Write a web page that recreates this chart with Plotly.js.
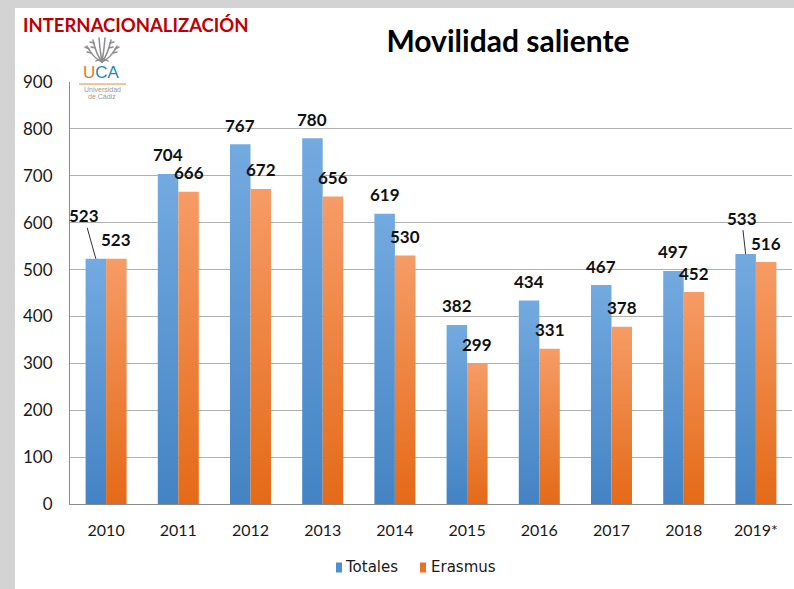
<!DOCTYPE html>
<html>
<head>
<meta charset="utf-8">
<script src="https://cdn.plot.ly/plotly-3.0.1.min.js"></script>
<style>
  html, body { margin: 0; padding: 0; background: #d3d3d3; width: 794px; height: 589px; overflow: hidden; }
  #chart { position: absolute; left: 15px; top: 8px; width: 779px; height: 581px; background: #fff; }
</style>
</head>
<body>
<div id="chart"></div>
<script>
// ---- data ----
const categories = ['2010', '2011', '2012', '2013', '2014', '2015', '2016', '2017', '2018', '2019*'];
const totales = [523, 704, 767, 780, 619, 382, 434, 467, 497, 533];
const erasmus = [523, 666, 672, 656, 530, 299, 331, 378, 452, 516];
const seriesNames = ['Totales', 'Erasmus'];
const seriesColors = ['#4f8fd0', '#ea7425'];
const yTicks = [0, 100, 200, 300, 400, 500, 600, 700, 800, 900];

// ---- geometry helpers (page px -> paper fraction) ----
const PL = 70, PR = 792, PT = 82, PB = 504;
const px = x => (x - PL) / (PR - PL);
const py = y => (PB - y) / (PB - PT);

const labelFont = { family: 'Lato, "Open Sans", sans-serif', size: 17, color: '#111', weight: 'bold' };
const axisFont = 'Lato, "Open Sans", sans-serif';

const traces = [
  { type: 'bar', name: seriesNames[0], x: categories, y: totales, marker: { color: seriesColors[0] } },
  { type: 'bar', name: seriesNames[1], x: categories, y: erasmus, marker: { color: seriesColors[1] } }
];

const half = 10.25;
const annotations = [];
categories.forEach((c, i) => {
  // Totales (x given as category index)
  if (i === 0) {
    annotations.push({ x: i, y: totales[i], xref: 'x', yref: 'y', text: String(totales[i]), xshift: -half,
      showarrow: true, arrowhead: 0, arrowwidth: 1, arrowcolor: '#333', ax: -12, ay: -43, font: labelFont });
  } else if (i === categories.length - 1) {
    annotations.push({ x: i, y: totales[i], xref: 'x', yref: 'y', text: String(totales[i]), xshift: -half,
      showarrow: true, arrowhead: 0, arrowwidth: 1, arrowcolor: '#333', ax: -4, ay: -36, font: labelFont });
  } else {
    annotations.push({ x: i, y: totales[i], xref: 'x', yref: 'y', text: String(totales[i]), xshift: -half,
      yshift: 19, showarrow: false, yanchor: 'middle', font: labelFont });
  }
  // Erasmus
  annotations.push({ x: i, y: erasmus[i], xref: 'x', yref: 'y', text: String(erasmus[i]), xshift: half,
    yshift: 19, showarrow: false, yanchor: 'middle', font: labelFont });
});

// header text and logo text
annotations.push({ xref: 'paper', yref: 'paper', x: px(21), y: py(25), xanchor: 'left', yanchor: 'middle',
  text: 'INTERNACIONALIZACIÓN', showarrow: false,
  font: { family: 'Lato, "Open Sans", sans-serif', size: 18.5, color: '#c00000', weight: 'bold' } });
annotations.push({ xref: 'paper', yref: 'paper', x: px(101), y: py(73), xanchor: 'center', yanchor: 'middle',
  text: '<span style="color:#e07b20">U</span><span style="color:#2d86ad">CA</span>', showarrow: false,
  font: { family: '"Liberation Sans", sans-serif', size: 17, color: '#2d86ad' } });
annotations.push({ xref: 'paper', yref: 'paper', x: px(102), y: py(89), xanchor: 'center', yanchor: 'middle',
  text: 'Universidad', showarrow: false, font: { family: '"Liberation Sans", sans-serif', size: 7, color: '#999' } });
annotations.push({ xref: 'paper', yref: 'paper', x: px(102), y: py(96), xanchor: 'center', yanchor: 'middle',
  text: 'de Cádiz', showarrow: false, font: { family: '"Liberation Sans", sans-serif', size: 7, color: '#999' } });

// legend (manual, to match compact Excel-style legend)
const legendItems = [
  { name: seriesNames[0], color: seriesColors[0], sq: 336, tx: 343 },
  { name: seriesNames[1], color: seriesColors[1], sq: 420, tx: 429 }
];
const legendShapes = [];
legendItems.forEach(it => {
  legendShapes.push({ type: 'rect', xref: 'paper', yref: 'paper', x0: px(it.sq), x1: px(it.sq + 6),
    y0: py(572.5), y1: py(562.5), fillcolor: it.color, line: { width: 0 } });
  annotations.push({ xref: 'paper', yref: 'paper', x: px(it.tx), y: py(567), xanchor: 'left', yanchor: 'middle',
    text: it.name, showarrow: false, font: { family: '"DejaVu Sans", sans-serif', size: 15, color: '#1a1a1a' } });
});

const wheat = "<svg xmlns='http://www.w3.org/2000/svg' width='40' height='26' viewBox='0 0 40 26'>" +
  "<g fill='none' stroke='#8d8d8d' stroke-width='1.5' stroke-linecap='round'>" +
  "<path d='M20 25 Q11 21 5 9'/><path d='M20 25 Q14 17 11 3'/><path d='M20 25 Q18 14 17 1'/>" +
  "<path d='M20 25 Q29 21 35 9'/><path d='M20 25 Q26 17 29 3'/><path d='M20 25 Q22 14 23 1'/>" +
  "<path d='M7 12 L3 10'/><path d='M9 16 L5 15'/><path d='M12 6 L8 5'/><path d='M13 11 L9 10'/>" +
  "<path d='M33 12 L37 10'/><path d='M31 16 L35 15'/><path d='M28 6 L32 5'/><path d='M27 11 L31 10'/>" +
  "<path d='M14 24 Q20 20 26 24'/></g></svg>";

const layout = {
  width: 779, height: 581,
  margin: { l: 55, r: 2, t: 74, b: 85 },
  paper_bgcolor: '#ffffff', plot_bgcolor: '#ffffff',
  barmode: 'group', bargap: 0.432, bargroupgap: 0,
  title: { text: '<b>Movilidad saliente</b>', xref: 'container', yref: 'container',
    x: 493 / 779, y: 1 - 33 / 581, xanchor: 'center', yanchor: 'middle',
    font: { family: 'Lato, "Open Sans", sans-serif', size: 30, color: '#000' } },
  xaxis: { type: 'category', range: [-0.5, categories.length - 0.5], autorange: false,
    showline: true, linecolor: '#8c8c8c', linewidth: 1, ticks: '',
    showgrid: false, ticklabelstandoff: 12, tickfont: { family: axisFont, size: 16, color: '#1a1a1a' } },
  yaxis: { range: [0, 900], autorange: false, tickvals: yTicks, ticktext: yTicks.map(String), showline: true,
    linecolor: '#8c8c8c', linewidth: 1, ticks: '', gridcolor: '#b0b0b0', gridwidth: 1, zeroline: false,
    ticklabelstandoff: 13, tickfont: { family: axisFont, size: 17, color: '#1a1a1a' } },
  showlegend: false,
  annotations: annotations,
  shapes: [
    { type: 'rect', xref: 'paper', yref: 'paper', x0: px(78), x1: px(127), y0: py(64), y1: py(100),
      fillcolor: '#ffffff', line: { width: 0 }, layer: 'above' },
    { type: 'line', xref: 'paper', yref: 'paper', x0: px(79), x1: px(126), y0: py(84), y1: py(84),
      line: { color: '#efb27a', width: 1.5 }, layer: 'above' }
  ].concat(legendShapes),
  images: [
    { source: 'data:image/svg+xml;utf8,' + encodeURIComponent(wheat), xref: 'paper', yref: 'paper',
      x: px(82), y: py(37), sizex: 40 / (PR - PL), sizey: 26 / (PB - PT), sizing: 'stretch',
      xanchor: 'left', yanchor: 'top', layer: 'above' }
  ]
};

Plotly.newPlot('chart', traces, layout, { staticPlot: true, displayModeBar: false }).then(gd => {
  const ns = 'http://www.w3.org/2000/svg';
  const defs = gd.querySelector('.main-svg defs');
  const grads = [['#73aae0', '#4483c4'], ['#f69c66', '#e46a17']];
  grads.forEach((g, i) => {
    const lg = document.createElementNS(ns, 'linearGradient');
    lg.setAttribute('id', 'bargrad' + i);
    lg.setAttribute('x1', '0'); lg.setAttribute('y1', '0'); lg.setAttribute('x2', '0'); lg.setAttribute('y2', '1');
    [[0, g[0]], [1, g[1]]].forEach(([o, c]) => {
      const st = document.createElementNS(ns, 'stop');
      st.setAttribute('offset', String(o)); st.setAttribute('stop-color', c);
      lg.appendChild(st);
    });
    defs.appendChild(lg);
  });
  gd.querySelectorAll('.barlayer g.trace.bars').forEach((t, i) => {
    t.querySelectorAll('path').forEach(p => { p.style.fill = 'url(#bargrad' + i + ')'; });
  });
});
</script>
</body>
</html>
